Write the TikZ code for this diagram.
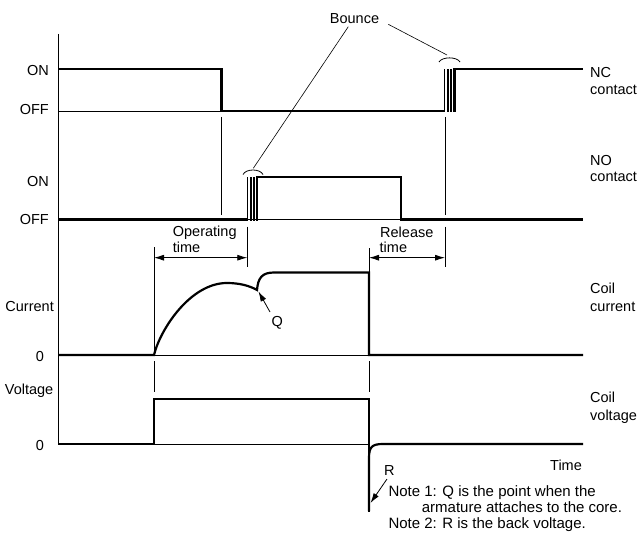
\documentclass[tikz,border=0pt]{standalone}
\usepackage{fontspec}
\setmainfont{Liberation Sans}
\usetikzlibrary{arrows.meta}
\begin{document}
\begin{tikzpicture}[x=1pt,y=-1pt,
  wave/.style={line width=2.2pt, line join=miter},
  fine/.style={line width=0.8pt},
  bar/.style={line width=1.6pt},
  lbl/.style={inner sep=0pt, font=\fontsize{14.5}{17}\selectfont},
  notelbl/.style={inner sep=0pt, font=\fontsize{15}{17}\selectfont},
  dimarrow/.style={fine, {Latex[length=10pt,width=6pt]}-{Latex[length=10pt,width=6pt]}},
  ptr/.style={fine, -{Latex[length=10pt,width=6pt]}}]
\useasboundingbox (0,0) rectangle (641,551);

% axis
\draw[fine] (58.5,34) -- (58.5,444);

% left labels
\node[lbl, anchor=base east] (on1) at (49,76) {ON};
\node[lbl, anchor=base east] (off1) at (49,115) {OFF};
\node[lbl, anchor=base east] (on2) at (49,186.5) {ON};
\node[lbl, anchor=base east] (off2) at (49,225) {OFF};
\node[lbl, anchor=base east] (cur) at (54,311.7) {Current};
\node[lbl, anchor=base] (zero1) at (40,361) {0};
\node[lbl, anchor=base east] (volt) at (53.5,394.3) {Voltage};
\node[lbl, anchor=base] (zero2) at (40,450) {0};

% right labels
\node[lbl, anchor=base west] (nc1) at (590,77.3) {NC};
\node[lbl, anchor=base west] (nc2) at (590,94.3) {contact};
\node[lbl, anchor=base west] (no1) at (590,165) {NO};
\node[lbl, anchor=base west] (no2) at (590,181.5) {contact};
\node[lbl, anchor=base west] (cc1) at (590,293.3) {Coil};
\node[lbl, anchor=base west] (cc2) at (590,311) {current};
\node[lbl, anchor=base west] (cv1) at (590,402.3) {Coil};
\node[lbl, anchor=base west] (cv2) at (590,420) {voltage};

% NC contact
\draw[fine] (58,111) -- (222,111);
\draw[wave] (58,69) -- (221.5,69) -- (221.5,111) -- (445,111);
\foreach \x in {444.5,447.7,450.9} \draw[bar] (\x,112) -- (\x,69);
\draw[wave] (454.5,112) -- (454.5,69) -- (583,69);

% NO contact
\draw[fine] (246,219.5) -- (401,219.5);
\draw[wave] (58,219.5) -- (247.5,219.5);
\foreach \x in {247.5,250.7,253.9} \draw[bar] (\x,220.5) -- (\x,177);
\draw[wave] (257,220.5) -- (257,177) -- (401,177) -- (401,219.5) -- (583,219.5);

% bounce caps
\draw[fine] (243,174.5) .. controls (246,168.5) and (260,168.5) .. (263,174.5);
\draw[fine] (439,62) .. controls (442,56.5) and (457,56.5) .. (460,62);

% bounce label
\node[lbl, anchor=base] (bounce) at (354.5,24) {Bounce};
\coordinate (bncL0) at (348.3,26.7);
\coordinate (bncL1) at (253.3,168.3);
\coordinate (bncR0) at (388.3,24.3);
\coordinate (bncR1) at (447,55);
\draw[fine, line width=0.6pt] (bncL0) -- (bncL1);
\draw[fine, line width=0.6pt] (bncR0) -- (bncR1);

% timing ticks
\draw[fine] (221.5,117) -- (221.5,215);
\draw[fine] (445,117) -- (445,215);
\draw[fine] (247.3,226.5) -- (247.3,266.5);
\draw[fine] (445,226.5) -- (445,266.5);
\draw[fine] (154,247) -- (154,355);
\draw[fine] (369,248) -- (369,272);
\draw[fine] (154,361) -- (154,392);
\draw[fine] (369,361) -- (369,392);

% operating / release time
\coordinate (opA) at (154,257.7);
\coordinate (opB) at (247.3,257.7);
\coordinate (reA) at (369,257.7);
\coordinate (reB) at (445,257.7);
\draw[dimarrow] (opA) -- (opB);
\draw[dimarrow] (reA) -- (reB);
\node[lbl, anchor=base west] (op1) at (172.7,236.7) {Operating};
\node[lbl, anchor=base west] (op2) at (172.7,252.3) {time};
\node[lbl, anchor=base west] (re1) at (380,237.7) {Release};
\node[lbl, anchor=base west] (re2) at (379.5,252.7) {time};

% coil current
\draw[fine] (154,355) -- (369,355);
\draw[wave] (58,355) -- (154,355)
  .. controls (160,330) and (190,283) .. (227,283)
  .. controls (240,283) and (250,286) .. (257,290)
  .. controls (258,278) and (262,272.5) .. (274,272.5)
  -- (369,272.5) -- (369,355) -- (583,355);

% coil voltage
\draw[fine] (154,444) -- (369,444);
\draw[wave] (58,444) -- (154,444) -- (154,399) -- (369,399) -- (369,512);
\draw[wave] (369,511) -- (369,458) .. controls (369,447) and (372,444) .. (383,444) -- (583,444);

% Q and R
\coordinate (qtail) at (270,312);
\coordinate (qtip) at (258.5,291.5);
\draw[ptr] (qtail) -- (qtip);
\node[lbl, anchor=base west] (qlbl) at (271.5,326.5) {Q};
\coordinate (rtail) at (387,479);
\coordinate (rtip) at (370.5,503);
\draw[ptr] (rtail) -- (rtip);
\node[lbl, anchor=base west] (rlbl) at (384,475) {R};

\node[lbl, anchor=base west] (time) at (550,470) {Time};

% notes
\node[notelbl, anchor=base west] (n1) at (388.3,496) {Note 1: Q is the point when the};
\node[notelbl, anchor=base west] (n1b) at (421.7,512.7) {armature attaches to the core.};
\node[notelbl, anchor=base west] (n2) at (388.3,528.3) {Note 2: R is the back voltage.};
\end{tikzpicture}
\end{document}
